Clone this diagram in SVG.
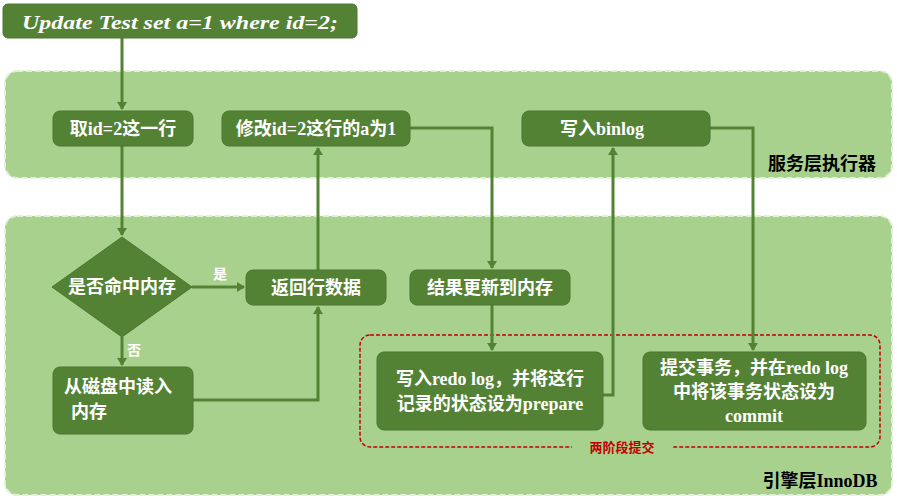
<svg xmlns="http://www.w3.org/2000/svg" width="897" height="500" viewBox="0 0 897 500">
<style>
.panel{fill:#a9d18e;stroke:#e2efd9;stroke-width:2;stroke-dasharray:6 3}
.node{fill:#548235;stroke:#4a7530;stroke-width:1}
.t{fill:#fff;font-family:"Liberation Serif","Noto Sans CJK SC",serif;font-weight:bold;font-size:18px;text-anchor:middle}
.c{fill:none;stroke:#548235;stroke-width:3}
.lbl{fill:#fff;font-family:"Liberation Serif","Noto Sans CJK SC",serif;font-weight:bold;font-size:14px}
</style>
<defs><marker id="a" markerWidth="10" markerHeight="10" refX="7" refY="5" orient="auto" markerUnits="userSpaceOnUse"><path d="M0,0 L8,5 L0,10 z" fill="#548235"/></marker></defs>
<rect width="897" height="500" fill="#fff"/>
<g id="service-panel"><rect class="panel" x="5" y="71" width="887" height="107" rx="12"/>
<text x="822" y="170" font-family="Liberation Serif,Noto Sans CJK SC,serif" font-weight="bold" font-size="18" text-anchor="middle" fill="#000">服务层执行器</text></g>
<g id="engine-panel"><rect class="panel" x="5" y="216" width="887" height="279" rx="12"/>
<text x="820" y="487" font-family="Liberation Serif,Noto Sans CJK SC,serif" font-weight="bold" font-size="18" text-anchor="middle" fill="#000">引擎层InnoDB</text></g>
<g id="twophase"><rect x="360" y="335" width="520" height="112" rx="10" fill="none" stroke="#c00000" stroke-width="1.5" stroke-dasharray="4 2"/>
<rect x="572" y="439" width="100" height="16" fill="#a9d18e"/>
<text x="622" y="452" font-family="Liberation Serif,Noto Sans CJK SC,serif" font-weight="bold" font-size="13" text-anchor="middle" fill="#c00000">两阶段提交</text></g>
<g id="connectors">
<path class="c" d="M122,38 V109" marker-end="url(#a)"/>
<path class="c" d="M122,146 V235" marker-end="url(#a)"/>
<path class="c" d="M192,287 H244" marker-end="url(#a)"/>
<path class="c" d="M122,337 V365" marker-end="url(#a)"/>
<path class="c" d="M193,400 H318 V307" marker-end="url(#a)"/>
<path class="c" d="M318,270 V148" marker-end="url(#a)"/>
<path class="c" d="M410,128 H492 V268" marker-end="url(#a)"/>
<path class="c" d="M492,305 V350" marker-end="url(#a)"/>
<path class="c" d="M603,395 H613 V148" marker-end="url(#a)"/>
<path class="c" d="M710,128 H753 V350" marker-end="url(#a)"/>
<text class="lbl" x="213" y="279">是</text>
<text class="lbl" x="127" y="355">否</text>
</g>
<g id="sql"><rect class="node" x="3" y="4" width="354" height="34" rx="5"/><text class="t" x="180" y="29" font-style="italic" font-size="22" textLength="316" lengthAdjust="spacingAndGlyphs">Update Test set a=1 where id=2;</text></g>
<g id="fetch"><rect class="node" x="53" y="111" width="140" height="35" rx="7"/><text class="t" x="123" y="135">取id=2这一行</text></g>
<g id="modify"><rect class="node" x="222" y="111" width="188" height="35" rx="7"/><text class="t" x="316" y="135">修改id=2这行的a为1</text></g>
<g id="binlog"><rect class="node" x="522" y="111" width="188" height="35" rx="7"/><text class="t" x="602" y="135">写入binlog</text></g>
<g id="hit"><polygon class="node" points="122,237 192,287 122,337 52,287"/><text class="t" x="122" y="293">是否命中内存</text></g>
<g id="return"><rect class="node" x="246" y="270" width="140" height="35" rx="7"/><text class="t" x="316" y="294">返回行数据</text></g>
<g id="update"><rect class="node" x="410" y="270" width="160" height="35" rx="7"/><text class="t" x="490" y="294">结果更新到内存</text></g>
<g id="disk"><rect class="node" x="53" y="367" width="140" height="67" rx="7"/><text class="t" x="118" y="393">从磁盘中读入</text><text class="t" x="89" y="418">内存</text></g>
<g id="redo"><rect class="node" x="377" y="352" width="226" height="78" rx="7"/><text class="t" x="490" y="385">写入redo log，并将这行</text><text class="t" x="490" y="410">记录的状态设为prepare</text></g>
<g id="commit"><rect class="node" x="643" y="352" width="223" height="78" rx="7"/><text class="t" x="754" y="374">提交事务，并在redo log</text><text class="t" x="754" y="398">中将该事务状态设为</text><text class="t" x="754" y="422">commit</text></g>
</svg>
